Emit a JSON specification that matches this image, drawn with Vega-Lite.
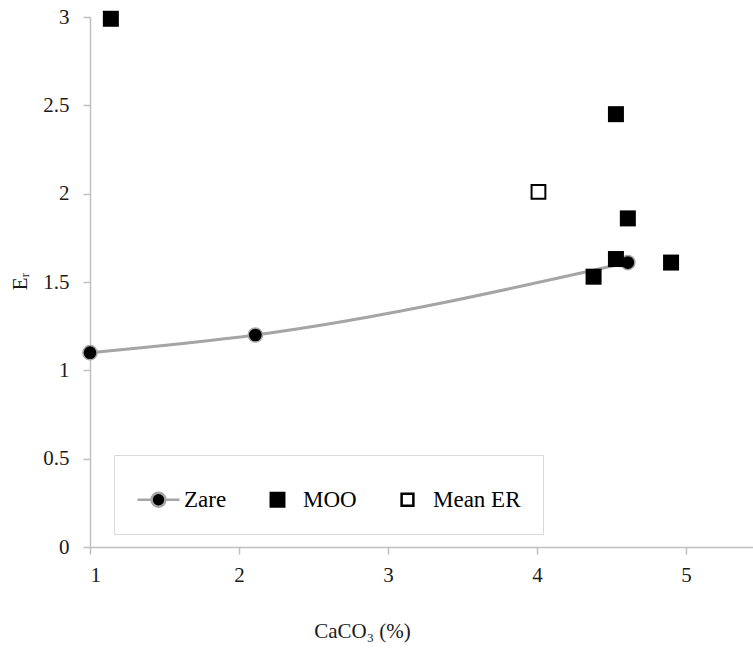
{
  "$schema": "https://vega.github.io/schema/vega-lite/v6.json",
  "width": 663,
  "height": 530,
  "autosize": {"type": "none"},
  "padding": {"left": 90, "top": 17, "right": 0, "bottom": 101},
  "background": "white",
  "data": {
    "values": [
      {"series": "Zare", "x": 1.0, "y": 1.1},
      {"series": "Zare", "x": 2.11, "y": 1.2},
      {"series": "Zare", "x": 4.61, "y": 1.61},
      {"series": "MOO", "x": 1.14, "y": 2.99},
      {"series": "MOO", "x": 4.53, "y": 2.45},
      {"series": "MOO", "x": 4.61, "y": 1.86},
      {"series": "MOO", "x": 4.53, "y": 1.63},
      {"series": "MOO", "x": 4.38, "y": 1.53},
      {"series": "MOO", "x": 4.9, "y": 1.61},
      {"series": "Mean ER", "x": 4.01, "y": 2.01}
    ]
  },
  "encoding": {
    "x": {
      "field": "x", "type": "quantitative",
      "scale": {"domain": [1, 5.45], "nice": false, "zero": false},
      "axis": {
        "values": [1, 2, 3, 4, 5],
        "title": "CaCO₃ (%)",
        "labelPadding": 10,
        "titleX": 272,
        "titleY": 90,
        "titleAlign": "center",
        "titleBaseline": "alphabetic"
      }
    },
    "y": {
      "field": "y", "type": "quantitative",
      "scale": {"domain": [0, 3], "nice": false},
      "axis": {
        "values": [0, 0.5, 1, 1.5, 2, 2.5, 3],
        "format": ".1~f",
        "title": "Eᵣ",
        "labelPadding": 14,
        "titleX": -70,
        "titleY": 264,
        "titleAngle": -90,
        "titleAlign": "center",
        "titleBaseline": "middle"
      }
    }
  },
  "layer": [
    {
      "transform": [{"filter": "datum.series === 'Zare'"}],
      "mark": {"type": "line", "interpolate": "monotone", "color": "#a5a5a5", "strokeWidth": 3}
    },
    {
      "transform": [{"filter": "datum.series === 'Zare'"}],
      "mark": {"type": "point", "shape": "circle", "filled": true, "fill": "#000000", "stroke": "#a5a5a5", "strokeWidth": 1.5, "size": 200, "opacity": 1}
    },
    {
      "transform": [{"filter": "datum.series === 'MOO'"}],
      "mark": {"type": "point", "shape": "square", "filled": true, "fill": "#000000", "size": 256, "opacity": 1}
    },
    {
      "transform": [{"filter": "datum.series === 'Mean ER'"}],
      "mark": {"type": "point", "shape": "square", "filled": true, "fill": "#ffffff", "stroke": "#000000", "strokeWidth": 2, "size": 190, "opacity": 1}
    },
    {
      "transform": [{"filter": "datum.series === 'none'"}],
      "mark": {"type": "point", "filled": true, "opacity": 1},
      "encoding": {
        "shape": {
          "field": "series", "type": "nominal",
          "scale": {
            "domain": ["Zare", "MOO", "Mean ER"],
            "range": [
              "M-1,0H-0.33M0.33,0H1M-0.33,0A0.33,0.33,0,1,1,0.33,0A0.33,0.33,0,1,1,-0.33,0Z",
              "M-0.32,-0.32H0.32V0.32H-0.32Z",
              "M-0.28,-0.28H0.28V0.28H-0.28Z"
            ]
          },
          "legend": {
            "title": null,
            "orient": "none",
            "legendX": 24,
            "legendY": 438,
            "direction": "horizontal",
            "strokeColor": "#d9d9d9",
            "fillColor": "#ffffff",
            "padding": 22,
            "symbolSize": 1764,
            "symbolStrokeWidth": 2.5,
            "symbolOpacity": 1,
            "labelFont": "Liberation Serif",
            "labelFontSize": 23,
            "labelColor": "#000000",
            "labelOffset": 3,
            "columnPadding": 28
          }
        },
        "fill": {
          "field": "series", "type": "nominal",
          "scale": {"domain": ["Zare", "MOO", "Mean ER"], "range": ["#000000", "#000000", "#ffffff"]}
        },
        "stroke": {
          "field": "series", "type": "nominal",
          "scale": {"domain": ["Zare", "MOO", "Mean ER"], "range": ["#a5a5a5", "#000000", "#000000"]}
        }
      }
    }
  ],
  "config": {
    "view": {"stroke": null},
    "axis": {
      "grid": false,
      "domainColor": "#bfbfbf",
      "domainWidth": 1.5,
      "tickColor": "#bfbfbf",
      "tickWidth": 1.5,
      "tickSize": 7,
      "labelFont": "Liberation Serif",
      "labelFontSize": 21,
      "labelColor": "#1a1a1a",
      "titleFont": "Liberation Serif",
      "titleFontSize": 21,
      "titleFontWeight": "normal",
      "titleColor": "#1a1a1a"
    }
  }
}
